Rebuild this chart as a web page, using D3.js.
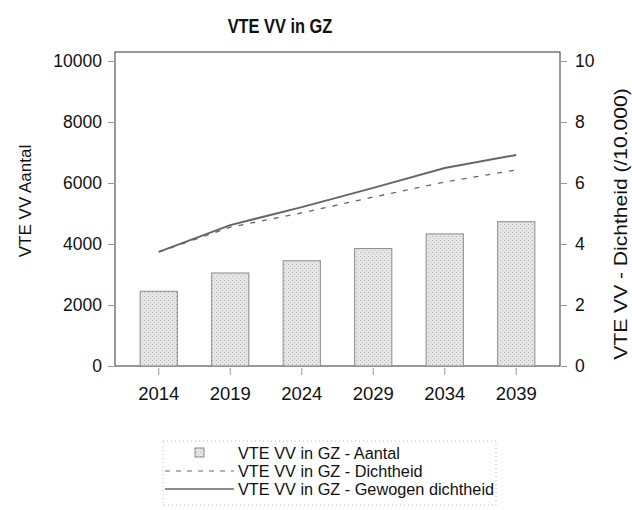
<!DOCTYPE html>
<html>
<head>
<meta charset="utf-8">
<script src="https://cdn.jsdelivr.net/npm/d3@7"></script>
<style>
  body { margin: 0; background: #fff; }
  text { font-family: "Liberation Sans", Arial, sans-serif; fill: #111; }
</style>
</head>
<body>
<div id="chart"></div>
<script>
// data
var years = ["2014", "2019", "2024", "2029", "2034", "2039"];
var aantal = [2450, 3050, 3450, 3850, 4330, 4730];
var dichtheid = [3.74, 4.55, 5.02, 5.54, 6.03, 6.43];
var gewogen = [3.74, 4.62, 5.21, 5.84, 6.49, 6.92];
var leftTicks = [0, 2000, 4000, 6000, 8000, 10000];
var rightTicks = [0, 2, 4, 6, 8, 10];

var svgWidth = 632;
var svgHeight = 510;

var svg = d3.select("#chart")
  .append("svg")
  .attr("width", svgWidth)
  .attr("height", svgHeight);

// plot box
var box = { left: 115, right: 560, top: 52, bottom: 366 };

var xScale = d3.scaleBand()
  .domain(years)
  .range([123, 552])
  .paddingInner(0.48)
  .paddingOuter(0.24);

var yLeft = d3.scaleLinear().domain([0, 10000]).range([366, 61]);
var yRight = d3.scaleLinear().domain([0, 10]).range([366, 61]);

// bar pattern (stippled grey)
var defs = svg.append("defs");
var pat = defs.append("pattern")
  .attr("id", "stipple")
  .attr("width", 4).attr("height", 4)
  .attr("patternUnits", "userSpaceOnUse");
pat.append("rect").attr("width", 4).attr("height", 4).attr("fill", "#e6e6e6");
pat.append("rect").attr("x", 0).attr("y", 0).attr("width", 1).attr("height", 1).attr("fill", "#b0b0b0");
pat.append("rect").attr("x", 2).attr("y", 2).attr("width", 1).attr("height", 1).attr("fill", "#c4c4c4");

// frame
svg.append("rect")
  .attr("x", box.left).attr("y", box.top)
  .attr("width", box.right - box.left)
  .attr("height", box.bottom - box.top)
  .attr("fill", "none")
  .attr("stroke", "#333")
  .attr("stroke-width", 1);

// bars
svg.selectAll(".bar")
  .data(aantal)
  .enter()
  .append("rect")
  .attr("class", "bar")
  .attr("x", (d, i) => xScale(years[i]))
  .attr("y", d => yLeft(d))
  .attr("width", xScale.bandwidth())
  .attr("height", d => yLeft(0) - yLeft(d))
  .attr("fill", "url(#stipple)")
  .attr("stroke", "#8a8a8a")
  .attr("stroke-width", 1);

// lines
var xMid = i => xScale(years[i]) + xScale.bandwidth() / 2;
var line = d3.line()
  .x((d, i) => xMid(i))
  .y(d => yRight(d));

svg.append("path")
  .datum(dichtheid)
  .attr("d", line)
  .attr("fill", "none")
  .attr("stroke", "#666")
  .attr("stroke-width", 1.3)
  .attr("stroke-dasharray", "5,7");

svg.append("path")
  .datum(gewogen)
  .attr("d", line)
  .attr("fill", "none")
  .attr("stroke", "#666")
  .attr("stroke-width", 2);

// axes
var leftAxis = d3.axisLeft(yLeft).tickValues(leftTicks).tickFormat(d3.format("d")).tickSize(6).tickPadding(6);
var rightAxis = d3.axisRight(yRight).tickValues(rightTicks).tickSize(6).tickPadding(8);
var bottomAxis = d3.axisBottom(xScale).tickSize(7).tickPadding(12);

var gl = svg.append("g").attr("transform", `translate(${box.left - 1},0)`).call(leftAxis);
var gr = svg.append("g").attr("transform", `translate(${box.right + 1},0)`).call(rightAxis);
var gb = svg.append("g").attr("transform", `translate(0,${box.bottom + 2})`).call(bottomAxis);

[gl, gr, gb].forEach(function(g) {
  g.select(".domain").remove();
  g.selectAll(".tick line").attr("stroke", "#999");
  g.selectAll(".tick text").style("font-size", "17.5px").attr("fill", "#111");
});
gb.selectAll(".tick text").style("font-size", "18.5px");

// title (condensed bold)
svg.append("text")
  .attr("transform", "translate(280,33) scale(0.82,1)")
  .attr("text-anchor", "middle")
  .style("font-size", "20px")
  .style("font-weight", "bold")
  .text("VTE VV in GZ");

// axis labels
svg.append("text")
  .attr("transform", "translate(31,201) rotate(-90)")
  .attr("text-anchor", "middle")
  .style("font-size", "17px")
  .text("VTE VV Aantal");

svg.append("text")
  .attr("transform", "translate(627,224) rotate(-90) scale(1.17,1)")
  .attr("text-anchor", "middle")
  .style("font-size", "18px")
  .text("VTE VV - Dichtheid (/10.000)");

// legend
var legend = svg.append("g");
legend.append("rect")
  .attr("x", 163).attr("y", 441)
  .attr("width", 333).attr("height", 64)
  .attr("fill", "none")
  .attr("stroke", "#bbb")
  .attr("stroke-dasharray", "1,3");

var legendNames = ["VTE VV in GZ - Aantal", "VTE VV in GZ - Dichtheid", "VTE VV in GZ - Gewogen dichtheid"];
legendNames.forEach(function(name, i) {
  var y = 453 + i * 18;
  if (i === 0) {
    legend.append("rect")
      .attr("x", 195).attr("y", y - 5)
      .attr("width", 9).attr("height", 9)
      .attr("fill", "url(#stipple)")
      .attr("stroke", "#8a8a8a");
  } else {
    legend.append("line")
      .attr("x1", 165).attr("x2", 234)
      .attr("y1", y).attr("y2", y)
      .attr("stroke", "#666")
      .attr("stroke-width", i === 1 ? 1.2 : 1.5)
      .attr("stroke-dasharray", i === 1 ? "5,6" : null);
  }
  legend.append("text")
    .attr("x", 238).attr("y", y + 5.5)
    .style("font-size", "16.3px")
    .text(name);
});
</script>
</body>
</html>
